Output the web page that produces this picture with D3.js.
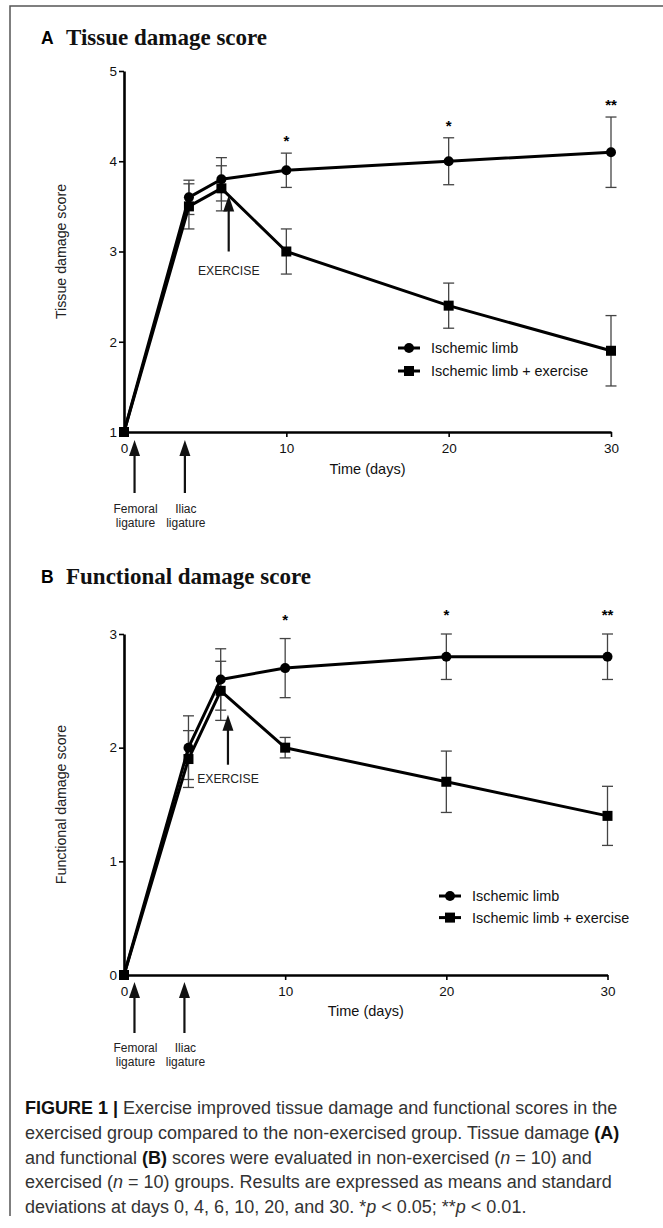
<!DOCTYPE html>
<html>
<head>
<meta charset="utf-8">
<script src="https://cdn.jsdelivr.net/npm/d3@7"></script>
<style>
  body { margin: 0; background: #fff; }
  svg { display: block; }
</style>
</head>
<body>
<svg id="chart"></svg>
<script>
// values
const days = [0, 4, 6, 10, 20, 30];
const seriesNames = ["Ischemic limb", "Ischemic limb + exercise"];
const significance = ["", "", "", "*", "*", "**"];
const xTicks = [0, 10, 20, 30];

const tissueIschemic = [1, 3.6, 3.8, 3.9, 4.0, 4.1];
const tissueIschemicSd = [0, 0.19, 0.24, 0.19, 0.26, 0.39];
const tissueExercise = [1, 3.5, 3.7, 3.0, 2.4, 1.9];
const tissueExerciseSd = [0, 0.25, 0.25, 0.25, 0.25, 0.39];
const tissueTicks = [1, 2, 3, 4, 5];

const functionalIschemic = [0, 2.0, 2.6, 2.7, 2.8, 2.8];
const functionalIschemicSd = [0, 0.28, 0.27, 0.26, 0.2, 0.2];
const functionalExercise = [0, 1.9, 2.5, 2.0, 1.7, 1.4];
const functionalExerciseSd = [0, 0.25, 0.26, 0.09, 0.27, 0.26];
const functionalTicks = [0, 1, 2, 3];

const ligatures = [
    { day: 0.65, lines: ["Femoral", "ligature"] },
    { day: 3.75, lines: ["Iliac", "ligature"] }
];

const captionLines = [
    [["FIGURE 1 |", "b"], [" Exercise improved tissue damage and functional scores in the", ""]],
    [["exercised group compared to the non-exercised group. Tissue damage ", ""], ["(A)", "b"]],
    [["and functional ", ""], ["(B)", "b"], [" scores were evaluated in non-exercised (", ""], ["n", "i"], [" = 10) and", ""]],
    [["exercised (", ""], ["n", "i"], [" = 10) groups. Results are expressed as means and standard", ""]],
    [["deviations at days 0, 4, 6, 10, 20, and 30. *", ""], ["p", "i"], [" < 0.05; **", ""], ["p", "i"], [" < 0.01.", ""]]
];

const W = 663, H = 1228;
const sans = "Liberation Sans, Arial, Helvetica, sans-serif";
const serif = "Liberation Serif, Times New Roman, serif";

const svg = d3.select('#chart')
    .attr('width', W)
    .attr('height', H);

svg.append('rect').attr('width', W).attr('height', H).attr('fill', '#fff');

// frame (open at right and bottom like the scan)
svg.append('path')
    .attr('d', 'M10,1216 L10,6 L663,6')
    .attr('fill', 'none')
    .attr('stroke', '#555')
    .attr('stroke-width', 1.5);

const toRows = (means, sds) => days.map((d, i) => ({ day: d, mean: means[i], sd: sds[i], sig: significance[i] }));

const drawArrow = (g, x, yTip, yTail) => {
    g.append('line')
        .attr('x1', x).attr('x2', x)
        .attr('y1', yTip + 12).attr('y2', yTail)
        .attr('stroke', '#111')
        .attr('stroke-width', 2.2);
    g.append('path')
        .attr('d', `M${x},${yTip} L${x - 5.5},${yTip + 16} L${x + 5.5},${yTip + 16} Z`)
        .attr('fill', '#111');
};

const drawPanel = (cfg) => {
    const g = svg.append('g');
    const x = d3.scaleLinear().domain([0, 30]).range(cfg.xRange);
    const y = d3.scaleLinear().domain(cfg.yDomain).range(cfg.yRange);
    const y0 = y(cfg.yDomain[0]);

    // panel heading
    g.append('text')
        .attr('x', 41).attr('y', cfg.titleY - 1.5)
        .attr('font-family', sans).attr('font-weight', 'bold').attr('font-size', 17.5)
        .text(cfg.letter);
    g.append('text')
        .attr('x', 66).attr('y', cfg.titleY)
        .attr('font-family', serif).attr('font-weight', 'bold').attr('font-size', 23)
        .attr('fill', '#111')
        .text(cfg.title);

    // axes
    const yAxis = d3.axisLeft(y).tickValues(cfg.ticks).tickFormat(d3.format('d'))
        .tickSize(5).tickSizeOuter(0).tickPadding(2);
    const xAxis = d3.axisBottom(x).tickValues(xTicks).tickFormat(d3.format('d'))
        .tickSize(5).tickSizeOuter(0).tickPadding(6);

    const ya = g.append('g').attr('transform', `translate(${cfg.xRange[0]},0)`).call(yAxis);
    const xa = g.append('g').attr('transform', `translate(0,${y0})`).call(xAxis);
    [ya, xa].forEach(a => {
        a.select('.domain').attr('stroke', '#000').attr('stroke-width', 2.6);
        a.selectAll('.tick line').attr('stroke', '#000').attr('stroke-width', 1.6);
        a.selectAll('.tick text')
            .attr('font-family', sans).attr('font-size', 13.5).attr('fill', '#111');
    });

    g.append('text')
        .attr('transform', `translate(${cfg.yLabelX},${(cfg.yRange[0] + cfg.yRange[1]) / 2}) rotate(-90)`)
        .attr('text-anchor', 'middle')
        .attr('font-family', sans).attr('font-size', 14.2).attr('fill', '#222')
        .text(cfg.yLabel);

    g.append('text')
        .attr('x', (cfg.xRange[0] + cfg.xRange[1]) / 2)
        .attr('y', y0 + cfg.xLabelGap)
        .attr('text-anchor', 'middle')
        .attr('font-family', sans).attr('font-size', 14.5).attr('fill', '#111')
        .text('Time (days)');

    const series = [toRows(cfg.ischemic, cfg.ischemicSd), toRows(cfg.exercise, cfg.exerciseSd)];

    // error bars
    series.forEach(rows => {
        const eb = g.append('g').attr('stroke', '#444').attr('stroke-width', 1.3);
        rows.filter(d => d.sd > 0).forEach(d => {
            const cx = x(d.day);
            eb.append('line').attr('x1', cx).attr('x2', cx).attr('y1', y(d.mean + d.sd)).attr('y2', y(d.mean - d.sd));
            [d.mean + d.sd, d.mean - d.sd].forEach(v => {
                eb.append('line').attr('x1', cx - 5.5).attr('x2', cx + 5.5).attr('y1', y(v)).attr('y2', y(v));
            });
        });
    });

    // lines
    const line = d3.line().x(d => x(d.day)).y(d => y(d.mean));
    series.forEach(rows => {
        g.append('path')
            .datum(rows)
            .attr('d', line)
            .attr('fill', 'none')
            .attr('stroke', '#000')
            .attr('stroke-width', 3)
            .attr('stroke-linejoin', 'round');
    });

    // markers
    g.selectAll('circle.pt')
        .data(series[0])
        .enter()
        .append('circle')
        .attr('class', 'pt')
        .attr('cx', d => x(d.day))
        .attr('cy', d => y(d.mean))
        .attr('r', 5);
    g.selectAll('rect.pt')
        .data(series[1])
        .enter()
        .append('rect')
        .attr('class', 'pt')
        .attr('x', d => x(d.day) - 5)
        .attr('y', d => y(d.mean) - 5)
        .attr('width', 10)
        .attr('height', 10);

    // significance stars above the ischemic error bars
    g.selectAll('text.sig')
        .data(series[0].filter(d => d.sig))
        .enter()
        .append('text')
        .attr('class', 'sig')
        .attr('x', d => x(d.day))
        .attr('y', d => y(d.mean + d.sd) - cfg.starGap + 8)
        .attr('text-anchor', 'middle')
        .attr('font-family', sans).attr('font-weight', 'bold').attr('font-size', 15)
        .text(d => d.sig);

    // exercise arrow
    drawArrow(g, x(cfg.exerciseDay), y(cfg.exerciseArrow[0]), y(cfg.exerciseArrow[1]));
    g.append('text')
        .attr('x', x(cfg.exerciseDay))
        .attr('y', y(cfg.exerciseArrow[2]))
        .attr('text-anchor', 'middle')
        .attr('font-family', sans).attr('font-size', 12.2).attr('fill', '#222')
        .text('EXERCISE');

    // ligature arrows under the axis
    ligatures.forEach(l => {
        const lx = x(l.day);
        drawArrow(g, lx, y0 + cfg.ligature[0], y0 + cfg.ligature[1]);
        l.lines.forEach((t, i) => {
            g.append('text')
                .attr('x', lx + 1)
                .attr('y', y0 + cfg.ligature[2] + i * 14)
                .attr('text-anchor', 'middle')
                .attr('font-family', sans).attr('font-size', 12).attr('fill', '#222')
                .text(t);
        });
    });

    // legend
    const lg = g.append('g').attr('transform', `translate(${cfg.legend[0]},${cfg.legend[1]})`);
    seriesNames.forEach((name, i) => {
        const ly = i * cfg.legend[2];
        lg.append('line').attr('x1', -11).attr('x2', 11).attr('y1', ly).attr('y2', ly)
            .attr('stroke', '#000').attr('stroke-width', 3);
        if (i === 0) lg.append('circle').attr('cx', 0).attr('cy', ly).attr('r', 5);
        else lg.append('rect').attr('x', -5).attr('y', ly - 5).attr('width', 10).attr('height', 10);
        lg.append('text')
            .attr('x', 22).attr('y', ly + 5)
            .attr('font-family', sans).attr('font-size', 14.4).attr('fill', '#111')
            .text(name);
    });
};

drawPanel({
    letter: 'A', title: 'Tissue damage score', titleY: 45,
    yLabel: 'Tissue damage score', yLabelX: 66,
    xRange: [124, 611], yDomain: [1, 5], yRange: [432, 71], ticks: tissueTicks,
    ischemic: tissueIschemic, ischemicSd: tissueIschemicSd,
    exercise: tissueExercise, exerciseSd: tissueExerciseSd,
    starGap: 15, exerciseDay: 6.45, exerciseArrow: [3.62, 3.0, 2.74],
    ligature: [8, 61, 81], xLabelGap: 42,
    legend: [409, 348, 23]
});

drawPanel({
    letter: 'B', title: 'Functional damage score', titleY: 584,
    yLabel: 'Functional damage score', yLabelX: 66,
    xRange: [124, 607.5], yDomain: [0, 3], yRange: [975, 634], ticks: functionalTicks,
    ischemic: functionalIschemic, ischemicSd: functionalIschemicSd,
    exercise: functionalExercise, exerciseSd: functionalExerciseSd,
    starGap: 22, exerciseDay: 6.45, exerciseArrow: [2.29, 1.85, 1.69],
    ligature: [7, 58, 77], xLabelGap: 41,
    legend: [450, 896, 21.6]
});

// caption
const cap = svg.append('g')
    .attr('font-family', sans)
    .attr('font-size', 18)
    .attr('fill', '#333');
captionLines.forEach((parts, i) => {
    const t = cap.append('text').attr('x', 25).attr('y', 1114 + i * 24.8);
    parts.forEach(([s, style]) => {
        const sp = t.append('tspan').text(s);
        if (style === 'b') sp.attr('font-weight', 'bold').attr('fill', '#111');
        if (style === 'i') sp.attr('font-style', 'italic');
    });
});
</script>
</body>
</html>
